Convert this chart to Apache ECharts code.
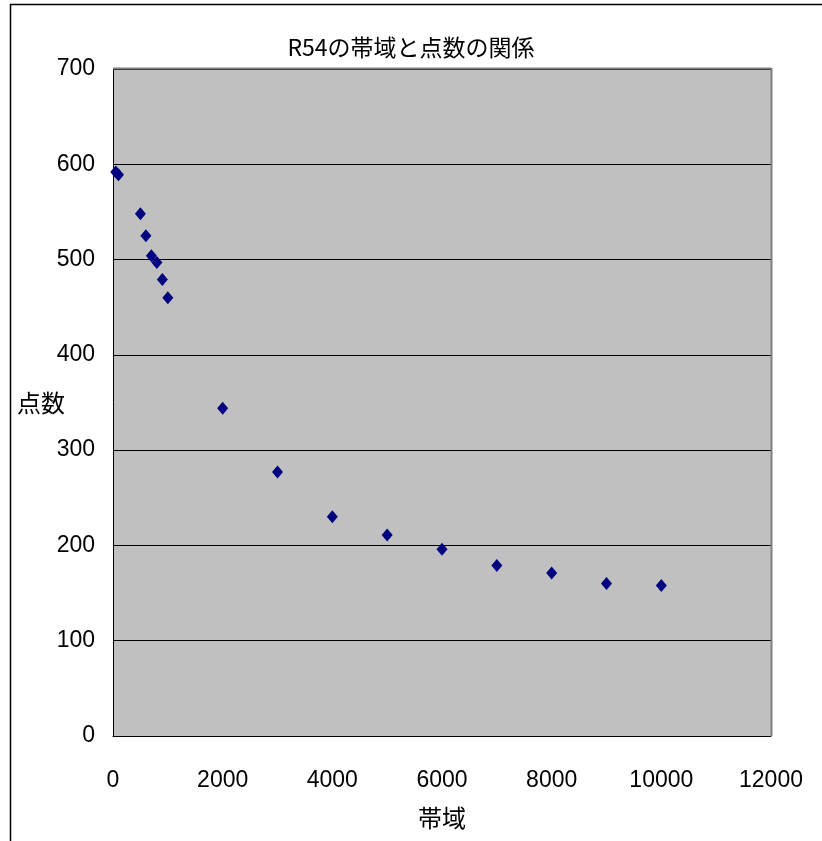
<!DOCTYPE html>
<html>
<head>
<meta charset="utf-8">
<script src="https://cdn.jsdelivr.net/npm/echarts@6/dist/echarts.min.js"></script>
<style>
html,body{margin:0;padding:0;background:#fff;}
#c{width:822px;height:841px;}
</style>
</head>
<body>
<div id="c"></div>
<script>
const titleText = 'R54の帯域と点数の関係';
const xName = '帯域';
const yName = '点数';
const bandwidth = [50, 100, 500, 600, 700, 800, 900, 1000, 2000, 3000, 4000, 5000, 6000, 7000, 8000, 9000, 10000];
const points = [592, 589, 548, 525, 504, 497, 479, 460, 344, 277, 230, 211, 196, 179, 171, 160, 158];
const xTicks = [0, 2000, 4000, 6000, 8000, 10000, 12000];
const yTicks = [0, 100, 200, 300, 400, 500, 600, 700];

const data = bandwidth.map((b, i) => [b, points[i]]);
const chart = echarts.init(document.getElementById('c'), null, {renderer: 'canvas'});
const font = '"Liberation Sans", Arial, sans-serif';
const jfont = '"Noto Sans CJK JP", sans-serif';
chart.setOption({
  backgroundColor: '#ffffff',
  animation: false,
  title: {
    text: titleText,
    left: 'center',
    top: 31,
    textStyle: {fontFamily: jfont, fontSize: 23, fontWeight: 'normal', color: '#000'}
  },
  graphic: [
    {type: 'rect', shape: {x: 10.5, y: 4.5, width: 900, height: 900}, style: {fill: null, stroke: '#000', lineWidth: 1.5}, z: 0},
    {type: 'line', shape: {x1: 113, y1: 68.5, x2: 771.5, y2: 68.5}, style: {stroke: '#808080', lineWidth: 2}, z: 10},
    {type: 'line', shape: {x1: 771.5, y1: 68, x2: 771.5, y2: 736}, style: {stroke: '#808080', lineWidth: 2}, z: 10}
  ],
  grid: {left: 113, right: 51, top: 69, bottom: 105, show: true, backgroundColor: '#c0c0c0', borderWidth: 0},
  xAxis: {
    type: 'value', min: 0, max: 12000, interval: 2000,
    name: xName, nameLocation: 'middle', nameGap: 70, nameMoveOverlap: false,
    nameTextStyle: {fontFamily: jfont, fontSize: 24, color: '#000'},
    axisLine: {show: true, onZero: false, lineStyle: {color: '#000', width: 1}},
    axisTick: {show: false},
    splitLine: {show: false},
    axisLabel: {fontFamily: font, fontSize: 23, color: '#000', margin: 33,
      formatter: v => xTicks.includes(v) ? String(v) : ''}
  },
  yAxis: {
    type: 'value', min: 0, max: 700, interval: 100,
    name: yName, nameLocation: 'middle', nameGap: 48, nameRotate: 0, nameMoveOverlap: false,
    nameTextStyle: {fontFamily: jfont, fontSize: 24, color: '#000', align: 'right'},
    axisLine: {show: true, lineStyle: {color: '#000', width: 1}},
    axisTick: {show: false},
    splitLine: {show: true, lineStyle: {color: '#000', width: 1}},
    axisLabel: {fontFamily: font, fontSize: 23, color: '#000', margin: 18,
      formatter: v => yTicks.includes(v) ? String(v) : ''}
  },
  series: [{
    type: 'scatter',
    data: data,
    symbol: 'diamond',
    symbolSize: [11, 13],
    itemStyle: {color: '#000080', opacity: 1},
    z: 5
  }]
});
</script>
</body>
</html>
